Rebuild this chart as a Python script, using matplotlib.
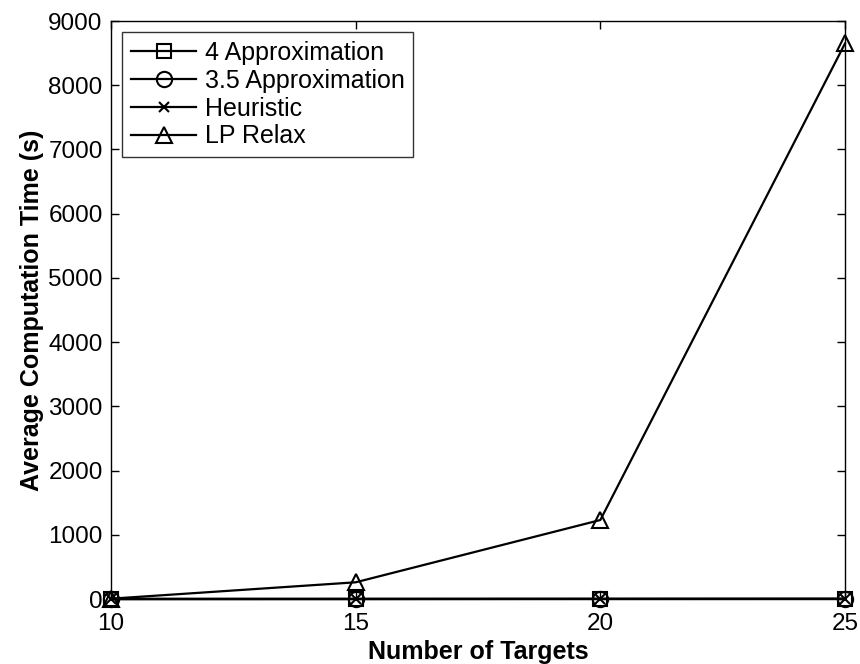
import matplotlib
matplotlib.use("Agg")
import matplotlib.pyplot as plt

# Data
targets = [10, 15, 20, 25]
approx4 = [0.5, 1, 2, 3]
approx35 = [0.5, 1, 2, 3]
heuristic = [0.2, 0.5, 1, 1.5]
lp_relax = [5, 260, 1230, 8650]

plt.rcParams["font.family"] = ["Liberation Sans", "DejaVu Sans"]

fig = plt.figure(figsize=(8.6, 6.64), dpi=100)
ax = fig.add_axes([111 / 860, 1 - 599 / 664, (845 - 111) / 860, (599 - 21) / 664])

ax.plot(targets, approx4, "k-", marker="s", mfc="none", ms=9.5, mew=1.5, lw=1.6, label="4 Approximation", clip_on=False)
ax.plot(targets, approx35, "k-", marker="o", mfc="none", ms=11, mew=1.5, lw=1.6, label="3.5 Approximation", clip_on=False)
ax.plot(targets, heuristic, "k-", marker="x", ms=7.5, mew=1.5, lw=1.6, label="Heuristic", clip_on=False)
ax.plot(targets, lp_relax, "k-", marker="^", mfc="none", ms=12, mew=1.5, lw=1.6, label="LP Relax", clip_on=False)

ax.set_xlim(10, 25)
ax.set_ylim(0, 9000)
ax.set_xticks([10, 15, 20, 25])
ax.set_yticks(range(0, 9001, 1000))
ax.tick_params(direction="in", top=True, right=True, labelsize=17.5, length=6, width=1, pad=6)
ax.tick_params(axis="x", pad=10)
for s in ax.spines.values():
    s.set_linewidth(1)

ax.set_xlabel("Number of Targets", fontsize=18, fontweight="bold", labelpad=4)
ax.set_ylabel("Average Computation Time (s)", fontsize=18, fontweight="bold", labelpad=3)

leg = ax.legend(loc="upper left", fontsize=18, frameon=True, fancybox=False,
                edgecolor="black", borderaxespad=0.45, handlelength=2.6,
                handletextpad=0.35, labelspacing=0.15, borderpad=0.35)
leg.get_frame().set_linewidth(1)

fig.savefig("out.png", dpi=100)
